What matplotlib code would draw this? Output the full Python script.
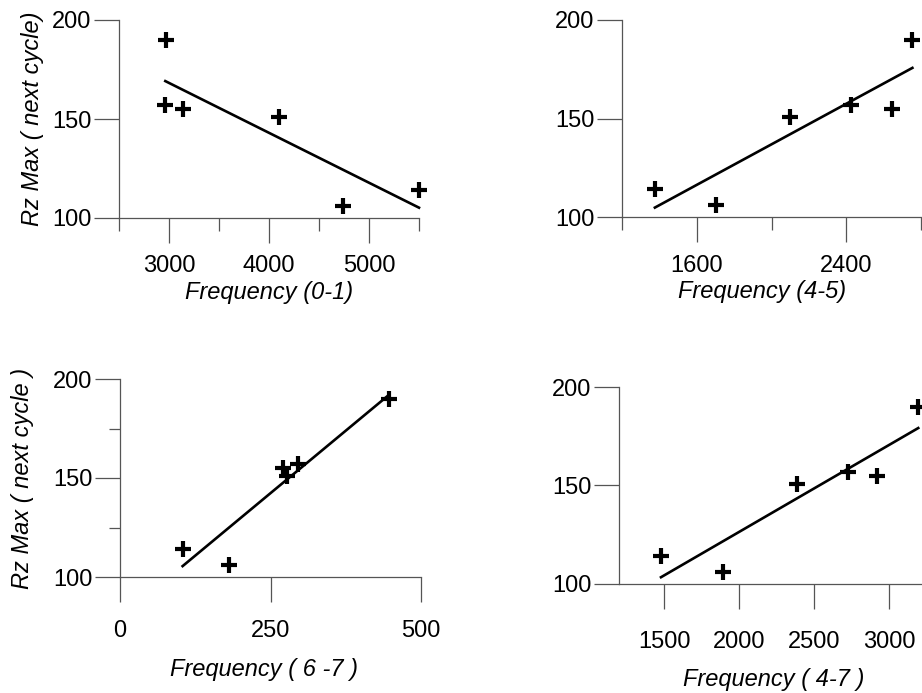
import numpy as np
import matplotlib
matplotlib.use("Agg")
import matplotlib.pyplot as plt
from matplotlib.ticker import FixedLocator, NullFormatter

plt.rcParams["font.family"] = ["Liberation Sans", "DejaVu Sans"]

# Rz max of the following cycle for six specimens
rz_max = [190, 157, 155, 151, 106, 114]

# frequencies per band for the same specimens
freq_01 = [2970, 2963, 3136, 4096, 4744, 5500]
freq_45 = [2754, 2425, 2647, 2101, 1701, 1376]
freq_67 = [447, 296, 270, 277, 181, 104]
freq_47 = [3195, 2725, 2920, 2384, 1891, 1480]

W, H = 922, 693
AX_COLOR = "#555555"
LABEL_SIZE = 17


def px_axes(fig, left, right, top, bottom):
    return fig.add_axes([left / W, 1 - bottom / H, (right - left) / W, (bottom - top) / H])


def style_axes(ax, xlim, xmajor, xminor, yminor=(), xpad=11):
    ax.set_xlim(*xlim)
    ax.set_ylim(100, 200)
    for s in ("top", "right"):
        ax.spines[s].set_visible(False)
    for s in ("left", "bottom"):
        ax.spines[s].set_color(AX_COLOR)
        ax.spines[s].set_linewidth(0.9)
    ax.xaxis.set_major_locator(FixedLocator(xmajor))
    ax.xaxis.set_minor_locator(FixedLocator(xminor))
    ax.yaxis.set_major_locator(FixedLocator([100, 150, 200]))
    ax.yaxis.set_minor_locator(FixedLocator(list(yminor)))
    ax.xaxis.set_minor_formatter(NullFormatter())
    ax.tick_params(axis="x", which="major", length=18, width=0.9, color=AX_COLOR,
                   pad=xpad, labelsize=17)
    ax.tick_params(axis="x", which="minor", length=9, width=0.9, color=AX_COLOR)
    ax.tick_params(axis="y", which="major", length=18, width=0.9, color=AX_COLOR,
                   pad=2, labelsize=17)
    ax.tick_params(axis="y", which="minor", length=8, width=0.9, color=AX_COLOR)


def draw_panel(ax, x, y):
    x = np.asarray(x, float)
    y = np.asarray(y, float)
    slope, icpt = np.polyfit(x, y, 1)
    xs = np.array([x.min(), x.max()])
    ax.plot(xs, slope * xs + icpt, color="black", lw=1.9, clip_on=False)
    ax.plot(x, y, linestyle="none", marker="+", markersize=11, mew=3,
            color="black", clip_on=False)


fig = plt.figure(figsize=(W / 100, H / 100), dpi=100)

ax1 = px_axes(fig, 119, 419, 20, 218)
style_axes(ax1, (2500, 5500), [3000, 4000, 5000], [2500, 3500, 4500, 5500], xpad=9)
draw_panel(ax1, freq_01, rz_max)
ax1.set_xlabel("Frequency (0-1)", fontsize=LABEL_SIZE, style="italic")
ax1.xaxis.set_label_coords(0.5, -0.32)
ax1.set_ylabel("Rz Max ( next cycle)", fontsize=LABEL_SIZE, style="italic")
ax1.yaxis.set_label_coords(-0.25, 0.5)

ax2 = px_axes(fig, 622, 921, 20, 217)
style_axes(ax2, (1200, 2800), [1600, 2400], [1200, 2000, 2800], xpad=9)
draw_panel(ax2, freq_45, rz_max)
ax2.set_xlabel("Frequency (4-5)", fontsize=LABEL_SIZE, style="italic")
ax2.xaxis.set_label_coords(0.47, -0.32)

ax3 = px_axes(fig, 120, 421, 379, 577)
style_axes(ax3, (0, 500), [0, 250, 500], [], yminor=[125, 175], xpad=13)
draw_panel(ax3, freq_67, rz_max)
ax3.set_xlabel("Frequency ( 6 -7 )", fontsize=LABEL_SIZE, style="italic")
ax3.xaxis.set_label_coords(0.48, -0.41)
ax3.set_ylabel("Rz Max ( next cycle )", fontsize=LABEL_SIZE, style="italic")
ax3.yaxis.set_label_coords(-0.285, 0.5)

ax4 = px_axes(fig, 619, 934, 387, 584)
style_axes(ax4, (1200, 3300), [1500, 2000, 2500, 3000], [], xpad=16)
draw_panel(ax4, freq_47, rz_max)
ax4.set_xlabel("Frequency ( 4-7 )", fontsize=LABEL_SIZE, style="italic")
ax4.xaxis.set_label_coords(0.49, -0.425)

fig.savefig("out.png", dpi=100)
